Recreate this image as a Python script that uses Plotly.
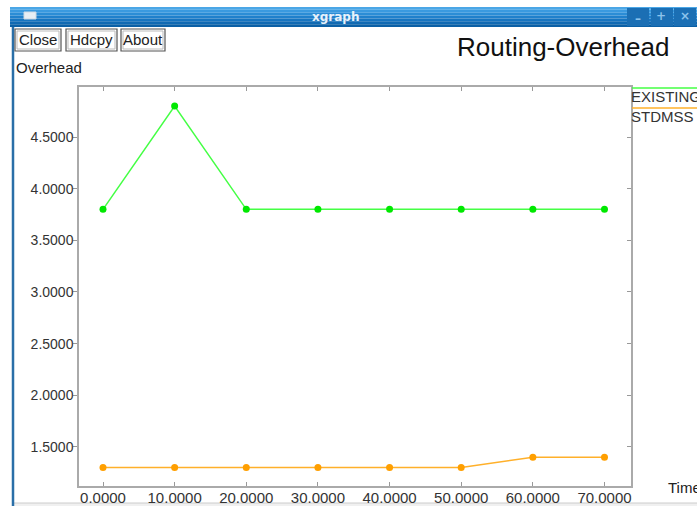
import plotly.graph_objects as go

# ---- data ----
time = [0, 10, 20, 30, 40, 50, 60, 70]
existing = [3.8, 4.8, 3.8, 3.8, 3.8, 3.8, 3.8, 3.8]
stdmss = [1.3, 1.3, 1.3, 1.3, 1.3, 1.3, 1.4, 1.4]
series_names = ["EXISTING", "STDMSS"]
x_ticks = [0, 10, 20, 30, 40, 50, 60, 70]
y_ticks = [1.5, 2.0, 2.5, 3.0, 3.5, 4.0, 4.5]

W, H = 697, 506
L, R, T, B = 79, 631, 87, 486
FONT = "Liberation Sans, Arial, sans-serif"

def X(px):
    return (px - L) / (R - L)

def Y(py):
    return (B - py) / (B - T)

fig = go.Figure()
fig.add_trace(go.Scatter(x=time, y=existing, mode="lines+markers", name=series_names[0],
                         line=dict(color="#44ff44", width=1.5),
                         marker=dict(color="#00e800", size=7), showlegend=False))
fig.add_trace(go.Scatter(x=time, y=stdmss, mode="lines+markers", name=series_names[1],
                         line=dict(color="#ffb02a", width=1.5),
                         marker=dict(color="#ff9f00", size=7), showlegend=False))
fig.add_trace(go.Scatter(x=time, y=stdmss, mode="lines", yaxis="y2", hoverinfo="skip",
                         line=dict(color="rgba(0,0,0,0)", width=0), showlegend=False))

shapes = []
annotations = []

# title bar gradient
bar_cols = ["#4aa6e6", "#3a9ae0", "#2b8dd6", "#1f80cc", "#1775c0", "#106ab3", "#0b60a6"]
n = len(bar_cols)
for i, c in enumerate(bar_cols):
    y0 = 7 + i * 20 / n
    y1 = 7 + (i + 1) * 20 / n
    shapes.append(dict(type="rect", xref="paper", yref="paper",
                       x0=X(10), x1=X(697), y0=Y(y1), y1=Y(y0),
                       fillcolor=c, line=dict(width=0), layer="above"))
# window-control buttons
for x0 in (627, 651, 674):
    shapes.append(dict(type="rect", xref="paper", yref="paper",
                       x0=X(x0), x1=X(x0 + 22), y0=Y(26), y1=Y(8),
                       fillcolor="#1b6fb4", line=dict(width=0), layer="above"))
for txt, xc, yc in (("–", 638, 19), ("+", 661, 16), ("×", 685, 16)):
    annotations.append(dict(text=f"<b>{txt}</b>", xref="paper", yref="paper",
                            x=X(xc), y=Y(yc), showarrow=False,
                            font=dict(family="DejaVu Sans", size=12, color="#8cc3ec"),
                            xanchor="center", yanchor="middle"))
# small icon
shapes.append(dict(type="rect", xref="paper", yref="paper",
                   x0=X(24), x1=X(36), y0=Y(19), y1=Y(12),
                   fillcolor="#e8eef4", line=dict(color="#cfd9e3", width=1), layer="above"))
annotations.append(dict(text="<b>xgraph</b>", xref="paper", yref="paper",
                        x=X(335), y=Y(17), showarrow=False,
                        font=dict(family="DejaVu Sans", size=12, color="#e8f2fb"),
                        xanchor="center", yanchor="middle"))
# left window border
shapes.append(dict(type="line", xref="paper", yref="paper",
                   x0=X(13), x1=X(13), y0=Y(506), y1=Y(27),
                   line=dict(color="#2a6fa8", width=2.5), layer="above"))
# bottom strip (beneath tick labels)
shapes.append(dict(type="rect", xref="paper", yref="paper",
                   x0=X(14), x1=X(697), y0=Y(506), y1=Y(503),
                   fillcolor="#f0f0f0", line=dict(width=0), layer="below"))
shapes.append(dict(type="line", xref="paper", yref="paper",
                   x0=X(14), x1=X(697), y0=Y(503), y1=Y(503),
                   line=dict(color="#cccccc", width=1), layer="below"))

# buttons
for label, x0, x1 in (("Close", 15, 61), ("Hdcpy", 66, 117), ("About", 121, 165)):
    shapes.append(dict(type="rect", xref="paper", yref="paper",
                       x0=X(x0), x1=X(x1), y0=Y(51), y1=Y(29),
                       fillcolor="white", line=dict(color="#555555", width=1.2), layer="above"))
    shapes.append(dict(type="rect", xref="paper", yref="paper",
                       x0=X(x0 + 2), x1=X(x1 - 2), y0=Y(49), y1=Y(31),
                       fillcolor="rgba(0,0,0,0)", line=dict(color="#bbbbbb", width=1), layer="above"))
    annotations.append(dict(text=label, xref="paper", yref="paper",
                            x=X((x0 + x1) / 2), y=Y(40), showarrow=False,
                            font=dict(family=FONT, size=15, color="#222222"),
                            xanchor="center", yanchor="middle"))

# labels
annotations.append(dict(text="Routing-Overhead", xref="paper", yref="paper",
                        x=X(563), y=Y(47), showarrow=False,
                        font=dict(family=FONT, size=26, color="#111111"),
                        xanchor="center", yanchor="middle"))
annotations.append(dict(text="Overhead", xref="paper", yref="paper",
                        x=X(14), y=Y(67), showarrow=False,
                        font=dict(family=FONT, size=15, color="#222222"),
                        xanchor="left", yanchor="middle"))
annotations.append(dict(text="Time", xref="paper", yref="paper",
                        x=X(666), y=Y(487), showarrow=False,
                        font=dict(family=FONT, size=15, color="#222222"),
                        xanchor="left", yanchor="middle"))

# legend
leg = [(series_names[0], "#44ff44", 88, 96), (series_names[1], "#ffb02a", 108, 116)]
for name, col, ly, ty in leg:
    shapes.append(dict(type="line", xref="paper", yref="paper",
                       x0=X(632), x1=X(697), y0=Y(ly), y1=Y(ly),
                       line=dict(color=col, width=1.5), layer="above"))
    annotations.append(dict(text=name, xref="paper", yref="paper",
                            x=X(629), y=Y(ty), showarrow=False,
                            font=dict(family=FONT, size=15, color="#333333"),
                            xanchor="left", yanchor="middle"))

y_range = [1.122, 4.984]
fig.update_layout(
    width=W, height=H, autosize=False,
    margin=dict(l=L, r=W - R, t=T, b=H - B, pad=0, autoexpand=False),
    paper_bgcolor="white", plot_bgcolor="white",
    showlegend=False,
    shapes=shapes, annotations=annotations,
    xaxis=dict(range=[-3.35, 73.7], tickvals=x_ticks, tickformat=".4f",
               ticks="inside", ticklen=4, tickcolor="#999999", mirror="ticks",
               showline=True, linecolor="#aaaaaa", linewidth=1.5,
               showgrid=False, zeroline=False, automargin=False,
               ticklabelstandoff=-3,
               tickfont=dict(family=FONT, size=15, color="#333333")),
    yaxis=dict(range=y_range, tickvals=y_ticks, tickformat=".4f",
               ticks="outside", ticklen=4, tickcolor="#999999", mirror=True,
               showline=True, linecolor="#aaaaaa", linewidth=1.5,
               showgrid=False, zeroline=False, automargin=False,
               ticklabelstandoff=-3,
               tickfont=dict(family=FONT, size=14, color="#333333")),
    yaxis2=dict(range=y_range, tickvals=y_ticks, overlaying="y", side="right",
                ticks="inside", ticklen=4, tickcolor="#999999", automargin=False,
                showticklabels=False, showline=False, showgrid=False, zeroline=False),
)

fig.write_html("out.html",
               config={"displayModeBar": False, "responsive": False},
               post_script="document.body.style.margin='0';document.body.style.overflow='hidden';")
